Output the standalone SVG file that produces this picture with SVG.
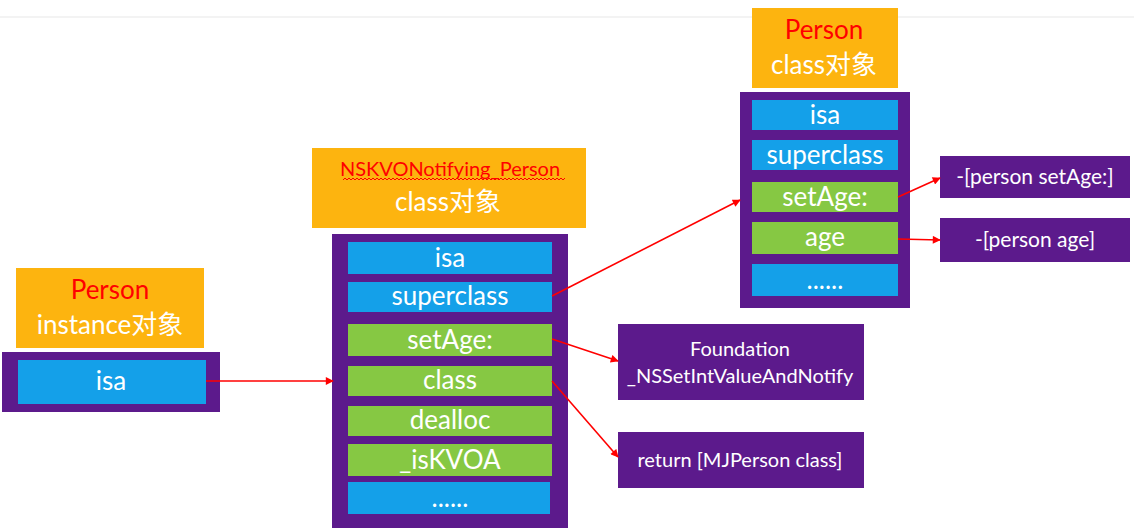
<svg xmlns="http://www.w3.org/2000/svg" width="1134" height="530" viewBox="0 0 1134 530">
<defs>
<style>
.t{font-family:Lato,"Noto Sans CJK SC",sans-serif;fill:#fff;text-anchor:middle}
.big{font-size:26px}
.mid{font-size:20px}
.red{fill:#ff0000}
.org{fill:#fdb40f}
.pur{fill:#5c1a8c}
.blu{fill:#14a0e9}
.grn{fill:#86c843}
.ln{stroke:#ff0000;stroke-width:1.6;fill:none;marker-end:url(#ah)}
</style>
<marker id="ah" viewBox="0 0 10 10" refX="9" refY="5" markerWidth="6" markerHeight="5" orient="auto" markerUnits="strokeWidth">
<path d="M0,0 L10,5 L0,10 z" fill="#ff0000"/>
</marker>
</defs>
<rect width="1134" height="530" fill="#fff"/>
<rect x="0" y="16" width="1134" height="2" fill="#f3f3f3"/>

<g id="instance">
<rect class="org" x="16" y="268" width="188" height="80"/>
<text class="t big red" x="110" y="299">Person</text>
<text class="t big" x="110" y="334">instance对象</text>
<rect class="pur" x="2" y="352" width="218" height="60"/>
<rect class="blu" x="18" y="360" width="188" height="44"/>
<text class="t big" x="111" y="390">isa</text>
</g>

<g id="kvo-class">
<rect class="org" x="312" y="148" width="274" height="80"/>
<text class="t red" style="font-size:20px" x="450" y="176">NSKVONotifying_Person</text>
<path d="M343,180 l2,-2 l2,2 l2,-2 l2,2 l2,-2 l2,2 l2,-2 l2,2 l2,-2 l2,2 l2,-2 l2,2 l2,-2 l2,2 l2,-2 l2,2 l2,-2 l2,2 l2,-2 l2,2 l2,-2 l2,2 l2,-2 l2,2 l2,-2 l2,2 l2,-2 l2,2 l2,-2 l2,2 l2,-2 l2,2 l2,-2 l2,2 l2,-2 l2,2 l2,-2 l2,2 l2,-2 l2,2 l2,-2 l2,2 l2,-2 l2,2 l2,-2 l2,2 l2,-2 l2,2 l2,-2 l2,2 l2,-2 l2,2 l2,-2 l2,2 l2,-2 l2,2 l2,-2 l2,2 l2,-2 l2,2 l2,-2 l2,2 l2,-2 l2,2 l2,-2 l2,2 l2,-2 l2,2 l2,-2 l2,2 l2,-2 l2,2 l2,-2 l2,2 l2,-2 l2,2 l2,-2 l2,2 l2,-2 l2,2 l2,-2 l2,2 l2,-2 l2,2 l2,-2 l2,2 l2,-2 l2,2 l2,-2 l2,2 l2,-2 l2,2 l2,-2 l2,2 l2,-2 l2,2 l2,-2 l2,2 l2,-2 l2,2 l2,-2 l2,2 l2,-2 l2,2 l2,-2 l2,2 l2,-2 l2,2 l2,-2 l2,2 l2,-2" stroke="#ff0000" stroke-width="1" fill="none"/>
<text class="t big" x="448" y="211">class对象</text>
<rect class="pur" x="332" y="234" width="236" height="294"/>
<rect class="blu" x="348" y="242" width="204" height="32"/>
<text class="t big" x="450" y="267">isa</text>
<rect class="blu" x="348" y="282" width="204" height="30"/>
<text class="t big" x="450" y="305">superclass</text>
<rect class="grn" x="348" y="324" width="204" height="32"/>
<text class="t big" x="450" y="349">setAge:</text>
<rect class="grn" x="348" y="366" width="204" height="30"/>
<text class="t big" x="450" y="389">class</text>
<rect class="grn" x="348" y="406" width="204" height="30"/>
<text class="t big" x="450" y="429">dealloc</text>
<rect class="grn" x="348" y="444" width="204" height="32"/>
<text class="t big" x="450" y="469">_isKVOA</text>
<rect class="blu" x="348" y="482" width="202" height="32"/>
<text class="t big" x="450" y="507">......</text>
</g>

<g id="person-class">
<rect class="org" x="752" y="8" width="146" height="80"/>
<text class="t big red" x="824" y="39">Person</text>
<text class="t big" x="824" y="74">class对象</text>
<rect class="pur" x="740" y="92" width="170" height="216"/>
<rect class="blu" x="752" y="100" width="146" height="30"/>
<text class="t big" x="825" y="124">isa</text>
<rect class="blu" x="752" y="140" width="146" height="30"/>
<text class="t big" x="825" y="164">superclass</text>
<rect class="grn" x="752" y="182" width="146" height="30"/>
<text class="t big" x="825" y="206">setAge:</text>
<rect class="grn" x="752" y="222" width="146" height="32"/>
<text class="t big" x="825" y="246">age</text>
<rect class="blu" x="752" y="264" width="146" height="32"/>
<text class="t big" x="825" y="289">......</text>
</g>

<g id="person-setAge">
<rect class="pur" x="940" y="156" width="190" height="42"/>
<text class="t" style="font-size:21px" x="1035" y="184">-[person setAge:]</text>
</g>
<g id="person-age">
<rect class="pur" x="940" y="218" width="190" height="44"/>
<text class="t" style="font-size:21px" x="1035" y="247">-[person age]</text>
</g>
<g id="foundation">
<rect class="pur" x="618" y="324" width="246" height="76"/>
<text class="t mid" x="740" y="356">Foundation</text>
<text class="t mid" x="740" y="383">_NSSetIntValueAndNotify</text>
</g>
<g id="return">
<rect class="pur" x="618" y="432" width="246" height="56"/>
<text class="t mid" x="740" y="467">return [MJPerson class]</text>
</g>

<g id="connectors">
<path class="ln" d="M206,381 L333,381"/>
<path class="ln" d="M552,296 L740,200"/>
<path class="ln" d="M552,339 L618,361"/>
<path class="ln" d="M552,381 L618,457"/>
<path class="ln" d="M898,197 L940,178"/>
<path class="ln" d="M898,239 L940,240"/>
</g>
</svg>
